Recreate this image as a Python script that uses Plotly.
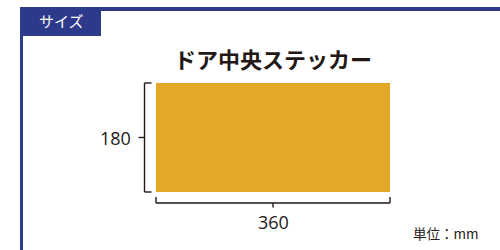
import plotly.graph_objects as go

# Data (mm)
product = "ドア中央ステッカー"
width_mm = [360]
height_mm = [180]
width_labels = ["360"]
height_labels = ["180"]
section_label = "サイズ"
unit_label = "単位：mm"

W, H = 500, 250
# pixel mapping: x 0mm -> 156px, 360mm -> 390px ; y 0mm -> 192px, 180mm -> 83px
x0px, x1px = 156, 390
y0px, y1px = 192, 83
sx = (x1px - x0px) / width_mm[0]
sy = (y0px - y1px) / height_mm[0]
xr = [-x0px / sx, (W - x0px) / sx]
yr = [-(H - y0px) / sy, (y0px) / sy]

def dx(p):
    return p / sx

def dy(p):
    return p / sy

w = width_mm[0]
h = height_mm[0]
ink = "#231815"
blue = "#2D3A8C"
orange = "#E3A826"

fig = go.Figure()
fig.add_trace(go.Scatter(x=[0, w], y=[0, h], mode="markers", marker=dict(opacity=0), hoverinfo="skip", showlegend=False))

shapes = []
# sticker rectangle
shapes.append(dict(type="rect", xref="x", yref="y", x0=0, x1=w, y0=0, y1=h,
                   fillcolor=orange, line=dict(width=0), layer="below"))
# left bracket
bx = -dx(11.5)
tick = dx(7)
lw = 1.4
shapes += [
    dict(type="line", xref="x", yref="y", x0=bx, x1=bx, y0=0, y1=h, line=dict(color=ink, width=lw)),
    dict(type="line", xref="x", yref="y", x0=bx, x1=bx + tick, y0=h, y1=h, line=dict(color=ink, width=lw)),
    dict(type="line", xref="x", yref="y", x0=bx, x1=bx + tick, y0=0, y1=0, line=dict(color=ink, width=lw)),
    dict(type="line", xref="x", yref="y", x0=bx, x1=bx - dx(6), y0=h / 2, y1=h / 2, line=dict(color=ink, width=lw)),
]
# bottom bracket
by = -dy(11)
vt = dy(6)
shapes += [
    dict(type="line", xref="x", yref="y", x0=0, x1=w, y0=by, y1=by, line=dict(color=ink, width=lw)),
    dict(type="line", xref="x", yref="y", x0=0, x1=0, y0=by, y1=by + vt, line=dict(color=ink, width=lw)),
    dict(type="line", xref="x", yref="y", x0=w, x1=w, y0=by, y1=by + vt, line=dict(color=ink, width=lw)),
    dict(type="line", xref="x", yref="y", x0=w / 2, x1=w / 2, y0=by, y1=by - dy(4.5), line=dict(color=ink, width=lw)),
]
# frame (paper px)
def px(x):
    return x / W

def py(y):
    return 1 - y / H

shapes += [
    dict(type="rect", xref="paper", yref="paper", x0=px(20), x1=px(500), y0=py(11), y1=py(7),
         fillcolor=blue, line=dict(width=0)),
    dict(type="rect", xref="paper", yref="paper", x0=px(20), x1=px(23), y0=py(250), y1=py(7),
         fillcolor=blue, line=dict(width=0)),
    dict(type="rect", xref="paper", yref="paper", x0=px(20), x1=px(101), y0=py(36), y1=py(7),
         fillcolor=blue, line=dict(width=0)),
]

font = "Noto Sans CJK JP"
annotations = [
    dict(text=section_label, xref="paper", yref="paper", x=px(61), y=py(21), showarrow=False,
         font=dict(family=font, size=15, color="white"), xanchor="center", yanchor="middle"),
    dict(text="<b>" + product + "</b>", xref="paper", yref="paper", x=px(273), y=py(58), showarrow=False,
         font=dict(family=font, size=22, color=ink), xanchor="center", yanchor="middle"),
    dict(text=height_labels[0], xref="x", yref="y", x=bx - dx(12), y=h / 2, showarrow=False,
         font=dict(family="Open Sans", size=18, color=ink), xanchor="right", yanchor="middle"),
    dict(text=width_labels[0], xref="x", yref="y", x=w / 2, y=by - dy(19), showarrow=False,
         font=dict(family="Open Sans", size=18, color=ink), xanchor="center", yanchor="middle"),
    dict(text=unit_label, xref="paper", yref="paper", x=px(411), y=py(233), showarrow=False,
         font=dict(family=font, size=13.5, color=ink), xanchor="left", yanchor="middle"),
]

fig.update_layout(
    width=W, height=H, margin=dict(l=0, r=0, t=0, b=0),
    paper_bgcolor="white", plot_bgcolor="white",
    xaxis=dict(range=xr, visible=False, fixedrange=True),
    yaxis=dict(range=yr, visible=False, fixedrange=True),
    shapes=shapes, annotations=annotations, showlegend=False,
)
fig.write_html("out.html", config={"displayModeBar": False},
               post_script="document.body.style.margin='0';")
